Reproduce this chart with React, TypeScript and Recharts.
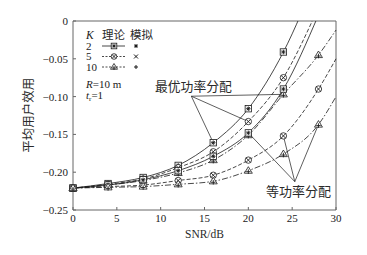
import { LineChart, Line, XAxis, YAxis, ReferenceLine } from "recharts";

// SNR grid (dB); the 30 dB column only carries the tail of curves that stay below 0
const snrDb = [0, 4, 8, 12, 16, 20, 24, 28, 30];

// average user utility (values above 0 leave the plot at the top)
const optK2 = [-0.221, -0.215, -0.207, -0.191, -0.161, -0.116, -0.041, 0.065, null];
const optK5 = [-0.221, -0.216, -0.209, -0.194, -0.173, -0.133, -0.075, 0.018, null];
const optK10 = [-0.221, -0.217, -0.211, -0.201, -0.184, -0.151, -0.097, -0.045, -0.012];
const eqK2 = [-0.221, -0.217, -0.21, -0.198, -0.179, -0.148, -0.09, 0.008, null];
const eqK5 = [-0.221, -0.219, -0.217, -0.211, -0.204, -0.184, -0.152, -0.09, -0.05];
const eqK10 = [-0.221, -0.22, -0.219, -0.216, -0.212, -0.198, -0.176, -0.137, -0.1];

const xTicks = [0, 5, 10, 15, 20, 25, 30];
const yTicks = [-0.25, -0.2, -0.15, -0.1, -0.05, 0];

// annotation anchors (data coords) where the pointer lines meet
const optAnchor = { x: 13.5, y: -0.0995 };
const eqAnchor = { x: 25.3, y: -0.2125 };

const INK = "#1a1a1a";
const AXIS = "#666";
const SERIF = '"Liberation Serif", "DejaVu Serif", serif';
const CJK = '"Noto Sans CJK SC", "Noto Sans CJK JP", sans-serif';

const dashFor: Record<number, string | undefined> = { 2: undefined, 5: "4 2", 10: "6 2 1.5 2" };

const toRows = (vals: (number | null)[]) =>
  snrDb
    .map((snr, i) => ({ snr, u: vals[i] }))
    .filter((d) => d.u !== null);

const series = [
  { id: "optK2", k: 2, vals: optK2 },
  { id: "optK5", k: 5, vals: optK5 },
  { id: "optK10", k: 10, vals: optK10 },
  { id: "eqK2", k: 2, vals: eqK2 },
  { id: "eqK5", k: 5, vals: eqK5 },
  { id: "eqK10", k: 10, vals: eqK10 },
];

function simPath(cx: number, cy: number, k: number, s: number) {
  if (k === 2) {
    const d = s * 0.7071;
    return `M${cx - s},${cy}H${cx + s}M${cx},${cy - s}V${cy + s}M${cx - d},${cy - d}L${cx + d},${cy + d}M${cx - d},${cy + d}L${cx + d},${cy - d}`;
  }
  if (k === 5) {
    return `M${cx - s},${cy - s}L${cx + s},${cy + s}M${cx - s},${cy + s}L${cx + s},${cy - s}`;
  }
  return `M${cx - s},${cy}H${cx + s}M${cx},${cy - s}V${cy + s}`;
}

function Marker({ cx, cy, k, s }: { cx: number; cy: number; k: number; s: number }) {
  let shape;
  if (k === 2) {
    shape = <rect x={cx - s} y={cy - s} width={2 * s} height={2 * s} fill="#fff" stroke={INK} strokeWidth={0.8} />;
  } else if (k === 5) {
    shape = <circle cx={cx} cy={cy} r={s} fill="#fff" stroke={INK} strokeWidth={0.8} />;
  } else {
    const h = s * 1.25;
    shape = (
      <polygon
        points={`${cx},${cy - h} ${cx - h},${cy + s * 0.8} ${cx + h},${cy + s * 0.8}`}
        fill="#fff"
        stroke={INK}
        strokeWidth={0.8}
      />
    );
  }
  return (
    <g>
      {shape}
      <path d={simPath(cx, cy + (k === 10 ? 1 : 0), k, s * 0.7)} stroke={INK} strokeWidth={0.9} fill="none" />
    </g>
  );
}

const makeDot = (id: string, k: number) => (p: any) => {
  const { cx, cy, payload, index } = p;
  if (cx == null || cy == null || payload.u > 0 || payload.snr > 28) {
    return <g key={`${id}-${index}`} />;
  }
  return <Marker key={`${id}-${index}`} cx={cx} cy={cy} k={k} s={3.2} />;
};

const fmtY = (v: number) => (v === 0 ? "0" : "\u2212" + Math.abs(v).toFixed(2));

function LegendOverlay() {
  const rows = [
    { k: 2, label: "2", y: 46 },
    { k: 5, label: "5", y: 56.5 },
    { k: 10, label: "10", y: 67 },
  ];
  return (
    <svg width={367} height={255} style={{ position: "absolute", left: 0, top: 0, pointerEvents: "none" }}>
      <text x={86} y={38.5} fontFamily={SERIF} fontStyle="italic" fontSize={11.5} fill={INK}>K</text>
      <text x={102} y={38.8} fontFamily={CJK} fontSize={11.5} fill="#2a2a2a">理论</text>
      <text x={130} y={38.8} fontFamily={CJK} fontSize={11.5} fill="#2a2a2a">模拟</text>
      {rows.map((r) => (
        <g key={r.label}>
          <text x={86} y={r.y + 3.8} fontFamily={SERIF} fontSize={11} fill={INK}>{r.label}</text>
          <line x1={102} x2={125} y1={r.y} y2={r.y} stroke={INK} strokeWidth={0.8} strokeDasharray={r.k === 2 ? undefined : "2 1.5"} />
          <Marker cx={114} cy={r.y} k={r.k} s={2.8} />
          <path d={simPath(136, r.y, r.k, 2)} stroke={INK} strokeWidth={1} fill="none" />
        </g>
      ))}
      <text x={86} y={87.5} fontFamily={SERIF} fontSize={11} fill={INK}>
        <tspan fontStyle="italic">R</tspan>=10 m
      </text>
      <text x={86} y={98.5} fontFamily={SERIF} fontSize={11} fill={INK}>
        <tspan fontStyle="italic">t</tspan>
        <tspan fontSize={7} dy={2}>r</tspan>
        <tspan dy={-2}>=1</tspan>
      </text>
    </svg>
  );
}

const textStyle = (left: number, top: number, size: number, family: string): React.CSSProperties => ({
  position: "absolute",
  left,
  top,
  fontSize: size,
  lineHeight: `${size}px`,
  fontFamily: family,
  color: "#2a2a2a",
  whiteSpace: "nowrap",
  pointerEvents: "none",
});

export default function App() {
  return (
    <div style={{ position: "absolute", left: 0, top: 0, width: 367, height: 255, background: "#fff" }}>
      <LineChart width={367} height={255} margin={{ top: 21, right: 31, left: 0, bottom: 0 }}>
        <XAxis
          dataKey="snr"
          type="number"
          domain={[0, 30]}
          ticks={xTicks}
          allowDuplicatedCategory={false}
          height={45}
          tickSize={-3}
          tickMargin={7}
          stroke={AXIS}
          tick={{ fill: INK, fontSize: 11, fontFamily: SERIF }}
        />
        <YAxis
          type="number"
          domain={[-0.25, 0]}
          ticks={yTicks}
          allowDataOverflow
          width={73}
          tickSize={-3}
          tickMargin={8}
          tickFormatter={fmtY}
          stroke={AXIS}
          tick={{ fill: INK, fontSize: 11, fontFamily: SERIF }}
        />
        <ReferenceLine y={0} stroke={AXIS} strokeWidth={1.2} />
        <ReferenceLine x={30} stroke={AXIS} strokeWidth={1} />
        {series.map((s) => (
          <Line
            key={s.id}
            data={toRows(s.vals)}
            dataKey="u"
            type="monotone"
            stroke={INK}
            strokeWidth={0.8}
            strokeDasharray={dashFor[s.k]}
            dot={makeDot(s.id, s.k)}
            activeDot={false}
            isAnimationActive={false}
          />
        ))}
        <ReferenceLine segment={[optAnchor, { x: snrDb[4], y: optK2[4] as number }]} stroke={INK} strokeWidth={0.7} />
        <ReferenceLine segment={[optAnchor, { x: snrDb[5], y: optK5[5] as number }]} stroke={INK} strokeWidth={0.7} />
        <ReferenceLine segment={[optAnchor, { x: snrDb[6], y: optK10[6] as number }]} stroke={INK} strokeWidth={0.7} />
        <ReferenceLine segment={[eqAnchor, { x: snrDb[5], y: eqK2[5] as number }]} stroke={INK} strokeWidth={0.7} />
        <ReferenceLine segment={[eqAnchor, { x: snrDb[6], y: eqK5[6] as number }]} stroke={INK} strokeWidth={0.7} />
        <ReferenceLine segment={[eqAnchor, { x: snrDb[7], y: eqK10[7] as number }]} stroke={INK} strokeWidth={0.7} />
      </LineChart>
      <LegendOverlay />
      <div style={textStyle(155, 79.5, 12.8, CJK)}>最优功率分配</div>
      <div style={textStyle(266, 183.5, 13, CJK)}>等功率分配</div>
      <div style={textStyle(185, 229, 11.5, SERIF)}>SNR/dB</div>
      <div
        style={{
          ...textStyle(-17, 109, 12.5, CJK),
          width: 90,
          textAlign: "center",
          transform: "rotate(-90deg)",
        }}
      >
        平均用户效用
      </div>
    </div>
  );
}
